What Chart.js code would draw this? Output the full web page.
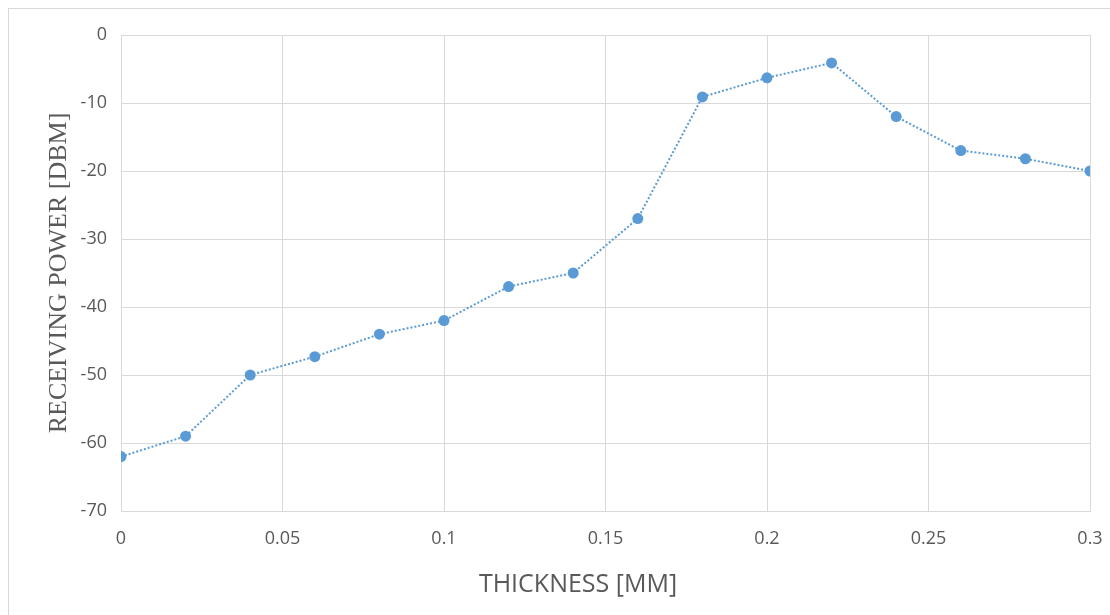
<!DOCTYPE html>
<html>
<head>
<meta charset="utf-8">
<script src="https://cdn.jsdelivr.net/npm/chart.js@4"></script>
<style>
    html, body { margin: 0; padding: 0; background: #fff; }
    #wrap { width: 1110px; height: 615px; position: relative; }
</style>
</head>
<body>
<div id="wrap"><canvas id="powerChart"></canvas></div>
<script>
    // values
    const thickness = [0, 0.02, 0.04, 0.06, 0.08, 0.1, 0.12, 0.14, 0.16, 0.18, 0.2, 0.22, 0.24, 0.26, 0.28, 0.3];
    const receivingPower = [-62, -59, -50, -47.3, -44, -42, -37, -35, -27, -9.1, -6.3, -4.1, -12, -17, -18.2, -20];

    const xTitle = 'THICKNESS [MM]';
    const yTitle = 'RECEIVING POWER [DBM]';

    const gridColor = '#d9d9d9';
    const textColor = '#595959';

    // light frame around the whole chart + x title (sits a bit left of the plot centre in the original)
    const outerFrame = {
        id: 'outerFrame',
        beforeDraw(chart) {
            const ctx = chart.ctx;
            ctx.save();
            ctx.strokeStyle = '#d9d9d9';
            ctx.lineWidth = 1;
            ctx.strokeRect(8.5, 8.5, chart.width + 10, chart.height + 10);
            ctx.restore();
        },
        afterDraw(chart) {
            const ctx = chart.ctx;
            ctx.save();
            ctx.fillStyle = textColor;
            ctx.font = '25px "Open Sans"';
            ctx.textAlign = 'center';
            ctx.textBaseline = 'middle';
            ctx.fillText(xTitle, 578, 585);
            ctx.restore();
        }
    };

    const ctx = document.getElementById('powerChart').getContext('2d');
    const powerChart = new Chart(ctx, {
        type: 'scatter',
        data: {
            datasets: [{
                data: thickness.map((t, i) => ({ x: t, y: receivingPower[i] })),
                showLine: true,
                borderColor: '#5b9bd5',
                borderWidth: 2,
                borderDash: [2, 2],
                pointRadius: 5.5,
                pointBackgroundColor: '#5b9bd5',
                pointBorderColor: '#5b9bd5',
                pointBorderWidth: 0
            }]
        },
        options: {
            responsive: true,
            maintainAspectRatio: false,
            animation: false,
            layout: { padding: { top: 35, right: 20, bottom: 0, left: 9 } },
            plugins: {
                legend: { display: false },
                tooltip: { enabled: false }
            },
            scales: {
                x: {
                    type: 'linear',
                    min: 0,
                    max: 0.3,
                    afterFit: scale => {
                        scale.height = 104;
                        scale.paddingRight = 10;
                    },
                    ticks: {
                        stepSize: 0.05,
                        padding: 17,
                        color: textColor,
                        font: { family: 'Open Sans', size: 18 },
                        callback: v => String(+v.toFixed(2))
                    },
                    grid: { color: gridColor, drawTicks: false },
                    border: { color: gridColor }
                },
                y: {
                    min: -70,
                    max: 0,
                    afterFit: scale => { scale.width = 112; },
                    ticks: {
                        stepSize: 10,
                        padding: 14,
                        color: textColor,
                        font: { family: 'Open Sans', size: 18 }
                    },
                    grid: { color: gridColor, drawTicks: false },
                    border: { color: gridColor },
                    title: {
                        display: true,
                        text: yTitle,
                        color: textColor,
                        font: { family: 'Liberation Serif', size: 26 },
                        padding: { top: 35, bottom: 0 }
                    }
                }
            }
        },
        plugins: [outerFrame]
    });
</script>
</body>
</html>
